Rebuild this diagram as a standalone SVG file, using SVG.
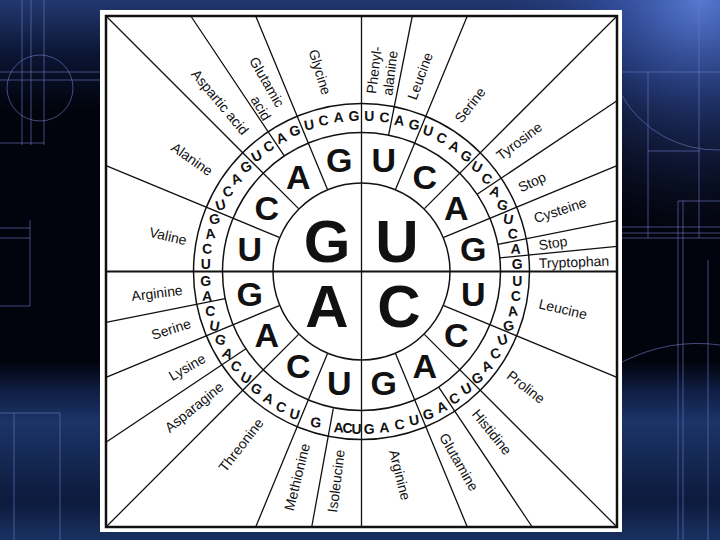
<svg xmlns="http://www.w3.org/2000/svg" width="720" height="540" viewBox="0 0 720 540">
<style>
.ln{stroke:#111;stroke-width:1.3;fill:none}
.ring{stroke:#111;stroke-width:1.5;fill:none}
.bgl{stroke:#7078c4;stroke-width:1;fill:none;opacity:0.6}
text{font-family:"Liberation Sans",Arial,Helvetica,sans-serif;fill:#111;text-anchor:middle}
.t3{font-size:14px;font-weight:bold}
.t2{font-size:34px;font-weight:bold}
.t1{font-size:60px;font-weight:bold}
.aa{font-size:14px}
</style>
<defs>
<linearGradient id="bgv" x1="0" y1="0" x2="0" y2="1">
<stop offset="0" stop-color="#22386f"/>
<stop offset="0.1" stop-color="#0b1634"/>
<stop offset="0.2" stop-color="#02040d"/>
<stop offset="0.67" stop-color="#02040d"/>
<stop offset="0.72" stop-color="#0e1c40"/>
<stop offset="0.78" stop-color="#1c3468"/>
<stop offset="0.85" stop-color="#142852"/>
<stop offset="0.93" stop-color="#0c1a3c"/>
<stop offset="1" stop-color="#1a3262"/>
</linearGradient>
<radialGradient id="glow" cx="700" cy="0" r="230" gradientUnits="userSpaceOnUse">
<stop offset="0" stop-color="#5a7cd6" stop-opacity="0.95"/>
<stop offset="0.45" stop-color="#3452a8" stop-opacity="0.55"/>
<stop offset="1" stop-color="#1a2a60" stop-opacity="0"/>
</radialGradient>
</defs>
<g id="background">
<rect x="0" y="0" width="720" height="540" fill="url(#bgv)"/>
<rect x="0" y="0" width="720" height="540" fill="url(#glow)"/>
<circle class="bgl" cx="40" cy="88" r="33"/>
<path class="bgl" d="M22 0V145M31 0V145M44 0V145M0 72H103M0 80H103M0 143H44M0 228H30M0 238H30M30 220V306M0 306H30M60 413V540M0 413H60M14 413V540"/>
<path class="bgl" d="M648 72V238M699 0V238M678 201V540M683 201V540M622 72H720M648 151H700M678 201H720M622 227H720M622 233H720M622 238H720M708 260V540"/>
<path class="bgl" d="M622 96A110 110 0 0 0 720 150"/>
<path class="bgl" d="M622 362Q670 338 720 345"/>
</g>
<rect id="panel" x="100" y="10" width="522" height="522" fill="#fff"/>
<g id="connectors">
<rect x="106" y="16" width="511" height="511" fill="none" stroke="#111" stroke-width="2.5"/>
<line x1="106" y1="271.5" x2="617" y2="271.5" stroke="#111" stroke-width="2"/>
<line class="ln" x1="361.5" y1="16" x2="361.5" y2="527"/>
<circle class="ring" cx="361.5" cy="271.5" r="88.5" fill="none"/>
<circle class="ring" cx="361.5" cy="271.5" r="139"/>
<circle class="ring" cx="361.5" cy="271.5" r="168"/>
<path class="ln" d="M424.4 208.6L617 16M298.6 208.6L106 16M298.6 334.4L106 527M424.4 334.4L617 527"/>
<path class="ln" d="M443.7 237.4L617 165.7M395.6 189.3L467.3 16M327.4 189.3L255.7 16M279.3 237.4L106 165.7M279.3 305.6L106 377.3M327.4 353.7L255.7 527M395.6 353.7L467.3 527M443.7 305.6L617 377.3"/>
<path class="ln" d="M388.6 135.2L412.3 16M477.1 194.3L617 100.8M497.8 244.4L617 220.7M499.8 257.9L617 246.3M284.3 155.9L190.8 16M438.7 387.1L532.2 527M245.9 348.7L106 442.2M225.2 298.6L106 322.3M333.3 408.3L311.7 527"/>
</g>
<g id="first-base">
<text class="t1" x="327" y="262">G</text>
<text class="t1" x="397" y="262">U</text>
<text class="t1" x="327" y="327">A</text>
<text class="t1" x="399" y="327">C</text>
</g>
<g id="second-base">
<text class="t2" x="249.7" y="261.3">U</text>
<text class="t2" x="266.7" y="220.2">C</text>
<text class="t2" x="298.2" y="188.7">A</text>
<text class="t2" x="339.3" y="171.7">G</text>
<text class="t2" x="383.7" y="171.7">U</text>
<text class="t2" x="424.8" y="188.7">C</text>
<text class="t2" x="456.3" y="220.2">A</text>
<text class="t2" x="473.3" y="261.3">G</text>
<text class="t2" x="473.3" y="305.7">U</text>
<text class="t2" x="456.3" y="346.8">C</text>
<text class="t2" x="424.8" y="378.3">A</text>
<text class="t2" x="383.7" y="395.3">G</text>
<text class="t2" x="339.3" y="395.3">U</text>
<text class="t2" x="298.2" y="378.3">C</text>
<text class="t2" x="266.7" y="346.8">A</text>
<text class="t2" x="249.7" y="305.7">G</text>
</g>
<g id="third-base" class="t3">
<text transform="translate(205.7 263.9)" y="5">U</text>
<text transform="translate(207.2 248.6) rotate(-2)" y="5">C</text>
<text transform="translate(210.2 233.6) rotate(-6)" y="5">A</text>
<text transform="translate(214.6 219) rotate(-10)" y="5">G</text>
<text transform="translate(220.5 204.8) rotate(-15)" y="5">U</text>
<text transform="translate(227.7 191.3) rotate(-20)" y="5">C</text>
<text transform="translate(236.2 178.6) rotate(-24)" y="5">A</text>
<text transform="translate(245.9 166.7) rotate(-26)" y="5">G</text>
<text transform="translate(256.7 155.9) rotate(-26)" y="5">U</text>
<text transform="translate(268.6 146.2) rotate(-24)" y="5">C</text>
<text transform="translate(281.3 137.7) rotate(-20)" y="5">A</text>
<text transform="translate(294.8 130.5) rotate(-15)" y="5">G</text>
<text transform="translate(309 124.6) rotate(-10)" y="5">U</text>
<text transform="translate(323.6 120.2) rotate(-6)" y="5">C</text>
<text transform="translate(338.6 117.2) rotate(-2)" y="5">A</text>
<text transform="translate(353.9 115.7)" y="5">G</text>
<text transform="translate(369.2 115.7)" y="5">U</text>
<text transform="translate(384.4 117.2) rotate(2)" y="5">C</text>
<text transform="translate(399.4 120.2) rotate(6)" y="5">A</text>
<text transform="translate(414.1 124.6) rotate(10)" y="5">G</text>
<text transform="translate(428.2 130.5) rotate(15)" y="5">U</text>
<text transform="translate(441.7 137.7) rotate(20)" y="5">C</text>
<text transform="translate(454.4 146.2) rotate(24)" y="5">A</text>
<text transform="translate(466.3 155.9) rotate(26)" y="5">G</text>
<text transform="translate(477.1 166.7) rotate(26)" y="5">U</text>
<text transform="translate(486.8 178.6) rotate(24)" y="5">C</text>
<text transform="translate(495.3 191.3) rotate(20)" y="5">A</text>
<text transform="translate(502.5 204.8) rotate(15)" y="5">G</text>
<text transform="translate(508.4 219) rotate(10)" y="5">U</text>
<text transform="translate(512.8 233.6) rotate(6)" y="5">C</text>
<text transform="translate(515.8 248.6) rotate(2)" y="5">A</text>
<text transform="translate(517.3 263.9)" y="5">G</text>
<text transform="translate(517.3 280.7)" y="5">U</text>
<text transform="translate(515.8 295.9) rotate(-2)" y="5">C</text>
<text transform="translate(512.8 310.9) rotate(-6)" y="5">A</text>
<text transform="translate(508.4 325.6) rotate(-10)" y="5">G</text>
<text transform="translate(502.5 339.7) rotate(-15)" y="5">U</text>
<text transform="translate(495.3 353.2) rotate(-20)" y="5">C</text>
<text transform="translate(486.8 365.9) rotate(-24)" y="5">A</text>
<text transform="translate(477.1 377.8) rotate(-26)" y="5">G</text>
<text transform="translate(466.3 388.6) rotate(-26)" y="5">U</text>
<text transform="translate(454.4 398.3) rotate(-24)" y="5">C</text>
<text transform="translate(441.7 406.8) rotate(-20)" y="5">A</text>
<text transform="translate(428.2 414) rotate(-15)" y="5">G</text>
<text transform="translate(414.1 419.9) rotate(-10)" y="5">U</text>
<text transform="translate(399.4 424.3) rotate(-6)" y="5">C</text>
<text transform="translate(384.4 427.3) rotate(-2)" y="5">A</text>
<text transform="translate(369.2 428.8)" y="5">G</text>
<text transform="translate(356.6 428.9)" y="5">U</text>
<text transform="translate(347.6 428.4)" y="5">C</text>
<text transform="translate(338.7 427.3) rotate(1)" y="5">A</text>
<text transform="translate(315.9 422.2) rotate(8)" y="5">G</text>
<text transform="translate(294.8 414) rotate(15)" y="5">U</text>
<text transform="translate(281.3 406.8) rotate(20)" y="5">C</text>
<text transform="translate(268.6 398.3) rotate(24)" y="5">A</text>
<text transform="translate(256.7 388.6) rotate(26)" y="5">G</text>
<text transform="translate(245.9 377.8) rotate(26)" y="5">U</text>
<text transform="translate(236.2 365.9) rotate(24)" y="5">C</text>
<text transform="translate(227.7 353.2) rotate(20)" y="5">A</text>
<text transform="translate(220.5 339.7) rotate(15)" y="5">G</text>
<text transform="translate(214.6 325.6) rotate(10)" y="5">U</text>
<text transform="translate(210.2 310.9) rotate(6)" y="5">C</text>
<text transform="translate(207.2 295.9) rotate(2)" y="5">A</text>
<text transform="translate(205.7 280.7)" y="5">G</text>
</g>
<g id="amino-acids" class="aa">
<text transform="translate(320 72) rotate(73)" y="5">Glycine</text>
<text transform="translate(267 82) rotate(60)" y="5">Glutamic</text>
<text transform="translate(261 108) rotate(60)" y="5">acid</text>
<text transform="translate(220 102) rotate(50)" y="5">Aspartic acid</text>
<text transform="translate(192 159) rotate(35)" y="5">Alanine</text>
<text transform="translate(168 236) rotate(13)" y="5">Valine</text>
<text transform="translate(374 70) rotate(-83)" y="5">Phenyl-</text>
<text transform="translate(390 73) rotate(-83)" y="5">alanine</text>
<text transform="translate(420 76) rotate(-70)" y="5">Leucine</text>
<text transform="translate(470 105) rotate(-52)" y="5">Serine</text>
<text transform="translate(519 141) rotate(-37)" y="5">Tyrosine</text>
<text transform="translate(532 182) rotate(-25)" y="5">Stop</text>
<text transform="translate(560 210) rotate(-18)" y="5">Cysteine</text>
<text transform="translate(553 243) rotate(-9)" y="5">Stop</text>
<text transform="translate(574 262) rotate(-2)" y="5">Tryptophan</text>
<text transform="translate(563 309) rotate(13)" y="5">Leucine</text>
<text transform="translate(526 387) rotate(38)" y="5">Proline</text>
<text transform="translate(492 432) rotate(51)" y="5">Histidine</text>
<text transform="translate(459 462) rotate(60)" y="5">Glutamine</text>
<text transform="translate(400 475) rotate(76)" y="5">Arginine</text>
<text transform="translate(157 293) rotate(-7)" y="5">Arginine</text>
<text transform="translate(171 329) rotate(-18)" y="5">Serine</text>
<text transform="translate(187 367) rotate(-30)" y="5">Lysine</text>
<text transform="translate(194 407) rotate(-39)" y="5">Asparagine</text>
<text transform="translate(241 445) rotate(-52)" y="5">Threonine</text>
<text transform="translate(297 477) rotate(-76)" y="5">Methionine</text>
<text transform="translate(336 481) rotate(-83)" y="5">Isoleucine</text>
</g>
</svg>
